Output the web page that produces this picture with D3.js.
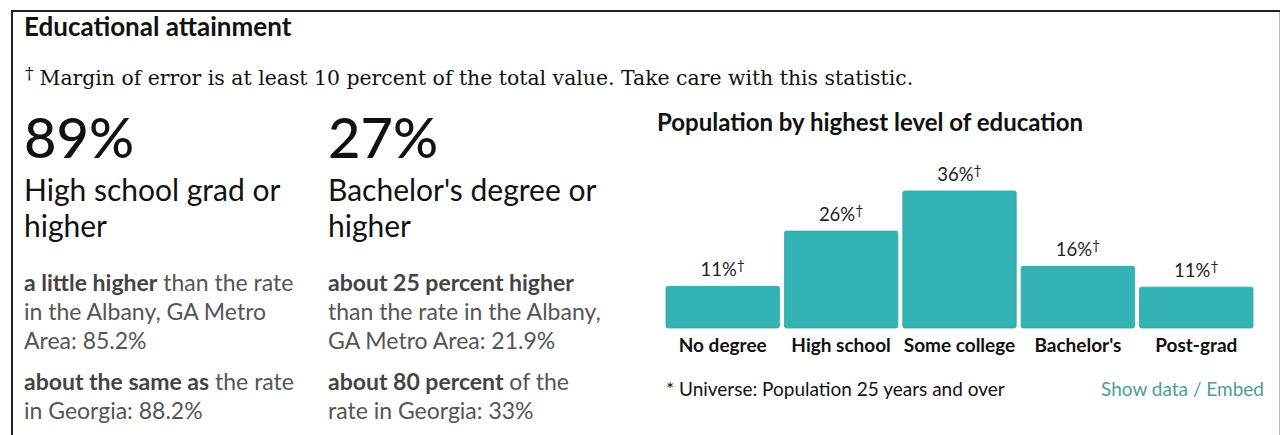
<!DOCTYPE html>
<html>
<head>
<meta charset="utf-8">
<script src="https://cdn.jsdelivr.net/npm/d3@7"></script>
<style>
  body { margin: 0; background: #fff; }
  svg { display: block; font-family: Lato, "Noto Sans", sans-serif; }
</style>
</head>
<body>
<div id="chart"></div>
<script>
//data
const categories = ["No degree", "High school", "Some college", "Bachelor's", "Post-grad"];
const values = [11.0, 25.6, 36.2, 16.3, 10.8];
const statValues = ["89%", "27%"];
const statLabels = [["High school grad or", "higher"], ["Bachelor's degree or", "higher"]];
// each line: [bold part, normal part]
const statCompareMetro = [
    [["a little higher", " than the rate"], ["", "in the Albany, GA Metro"], ["", "Area: 85.2%"]],
    [["about 25 percent higher", ""], ["", "than the rate in the Albany,"], ["", "GA Metro Area: 21.9%"]]
];
const statCompareState = [
    [["about the same as", " the rate"], ["", "in Georgia: 88.2%"]],
    [["about 80 percent", " of the"], ["", "rate in Georgia: 33%"]]
];

const W = 1281, H = 435;
const svg = d3.select("#chart").append("svg")
    .attr("width", W)
    .attr("height", H);

//frame
svg.append("path")
    .attr("d", "M12,435 L12,11 L1280,11")
    .attr("fill", "none")
    .attr("stroke", "#222")
    .attr("stroke-width", 2);
svg.append("line")
    .attr("x1", 1279.5).attr("x2", 1279.5)
    .attr("y1", 12).attr("y2", H)
    .attr("stroke", "#bbb");

//header
svg.append("text")
    .attr("x", 24).attr("y", 36)
    .attr("font-size", 26)
    .attr("font-weight", 700)
    .attr("fill", "#111")
    .text("Educational attainment");

const note = svg.append("text")
    .attr("x", 25).attr("y", 85)
    .attr("font-family", "'DejaVu Serif', serif")
    .attr("font-size", 20.4)
    .attr("fill", "#111");
note.append("tspan").attr("font-size", 17).attr("dy", -6).text("†");
note.append("tspan").attr("dy", 6).attr("dx", 6).text("Margin of error is at least 10 percent of the total value. Take care with this statistic.");

//stat columns
const colX = [24, 328];
colX.forEach((x, i) => {
    svg.append("text")
        .attr("x", x).attr("y", 158)
        .attr("font-size", 56)
        .attr("font-weight", 500)
        .attr("fill", "#111")
        .text(statValues[i]);

    statLabels[i].forEach((line, j) => {
        svg.append("text")
            .attr("x", x).attr("y", 201 + j * 36)
            .attr("font-size", 30)
            .attr("fill", "#111")
            .text(line);
    });

    const blocks = [[statCompareMetro[i], 291], [statCompareState[i], 390]];
    blocks.forEach(([lines, y0]) => {
        lines.forEach((parts, j) => {
            const t = svg.append("text")
                .attr("x", x).attr("y", y0 + j * 29)
                .attr("font-size", 23)
                .attr("fill", "#555");
            if (parts[0]) t.append("tspan").attr("font-weight", 700).attr("fill", "#444").text(parts[0]);
            if (parts[1]) t.append("tspan").text(parts[1]);
        });
    });
});

//bar chart
svg.append("text")
    .attr("x", 657).attr("y", 131)
    .attr("font-size", 24)
    .attr("font-weight", 700)
    .attr("fill", "#111")
    .text("Population by highest level of education");

const xScale = d3.scaleBand()
    .domain(categories)
    .range([666, 1253])
    .paddingInner(0.042)
    .paddingOuter(0);
const yScale = d3.scaleLinear()
    .domain([0, d3.max(values)])
    .range([328, 191]);

const bars = svg.append("g");
bars.selectAll("rect")
    .data(values)
    .join("rect")
    .attr("x", (d, i) => xScale(categories[i]))
    .attr("y", d => yScale(d))
    .attr("width", xScale.bandwidth())
    .attr("height", d => yScale(0) - yScale(d))
    .attr("rx", 2)
    .attr("fill", "#33b3b3")
    .attr("stroke", "#2aa6a6")
    .attr("stroke-width", 0.8);

const labels = bars.selectAll("text")
    .data(values)
    .join("text")
    .attr("x", (d, i) => xScale(categories[i]) + xScale.bandwidth() / 2)
    .attr("y", d => yScale(d) - 10)
    .attr("text-anchor", "middle")
    .attr("font-size", 18.5)
    .attr("fill", "#222");
labels.append("tspan").text(d => Math.round(d) + "%");
labels.append("tspan").attr("font-size", 14).attr("dy", -6).text("†");

const xAxis = d3.axisBottom(xScale).tickSize(0).tickPadding(10.5);
const xAxisG = svg.append("g")
    .attr("transform", `translate(0,${yScale(0)})`)
    .call(xAxis);
xAxisG.select(".domain").remove();
xAxisG.selectAll("text")
    .attr("font-family", "Lato, sans-serif")
    .attr("font-size", 19)
    .attr("font-weight", 700)
    .attr("fill", "#111");

svg.append("text")
    .attr("x", 666).attr("y", 396)
    .attr("font-size", 19)
    .attr("fill", "#111")
    .text("* Universe: Population 25 years and over");

svg.append("text")
    .attr("x", 1264).attr("y", 396)
    .attr("text-anchor", "end")
    .attr("font-size", 19)
    .attr("fill", "#4f9c92")
    .text("Show data / Embed");
</script>
</body>
</html>
